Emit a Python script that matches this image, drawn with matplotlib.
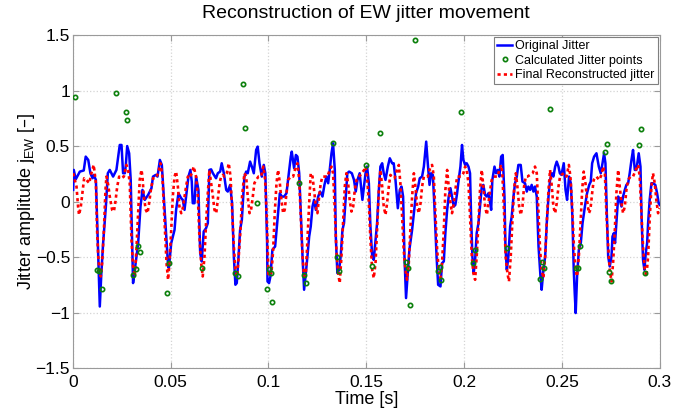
import numpy as np
import matplotlib
matplotlib.use("Agg")
import matplotlib.pyplot as plt

axis_color = "#9a9a9a"
grid_color = "#d4d4d4"

# Original jitter (blue line)
t_orig = [
    0.0002, 0.0005, 0.0015, 0.0036, 0.0056, 0.0066, 0.0079, 0.0090, 0.0101, 0.0107,
    0.0118, 0.0130, 0.0138, 0.0146, 0.0155, 0.0169, 0.0179, 0.0189, 0.0206, 0.0223,
    0.0240, 0.0249, 0.0257, 0.0266, 0.0271, 0.0278, 0.0288, 0.0296, 0.0308, 0.0317,
    0.0334, 0.0346, 0.0356, 0.0368, 0.0385, 0.0402, 0.0410, 0.0424, 0.0433, 0.0445,
    0.0455, 0.0465, 0.0479, 0.0487, 0.0491, 0.0503, 0.0520, 0.0528, 0.0540, 0.0554,
    0.0562, 0.0571, 0.0583, 0.0591, 0.0601, 0.0608, 0.0613, 0.0622, 0.0630, 0.0642,
    0.0651, 0.0659, 0.0669, 0.0681, 0.0690, 0.0698, 0.0707, 0.0716, 0.0732, 0.0741,
    0.0753, 0.0761, 0.0772, 0.0784, 0.0792, 0.0804, 0.0814, 0.0823, 0.0831, 0.0838,
    0.0847, 0.0855, 0.0864, 0.0877, 0.0886, 0.0894, 0.0906, 0.0915, 0.0925, 0.0937,
    0.0945, 0.0954, 0.0966, 0.0976, 0.0984, 0.0993, 0.0995, 0.1003, 0.1010, 0.1020,
    0.1034, 0.1046, 0.1058, 0.1068, 0.1080, 0.1092, 0.1102, 0.1114, 0.1119, 0.1131,
    0.1140, 0.1148, 0.1157, 0.1165, 0.1174, 0.1182, 0.1191, 0.1199, 0.1208, 0.1216,
    0.1225, 0.1233, 0.1242, 0.1254, 0.1264, 0.1276, 0.1286, 0.1296, 0.1305, 0.1313,
    0.1322, 0.1330, 0.1339, 0.1344, 0.1352, 0.1361, 0.1369, 0.1378, 0.1386, 0.1395,
    0.1403, 0.1412, 0.1426, 0.1437, 0.1446, 0.1455, 0.1466, 0.1480, 0.1496, 0.1504,
    0.1513, 0.1521, 0.1530, 0.1538, 0.1547, 0.1555, 0.1564, 0.1572, 0.1581, 0.1589,
    0.1598, 0.1610, 0.1620, 0.1632, 0.1640, 0.1649, 0.1661, 0.1671, 0.1680, 0.1688,
    0.1695, 0.1703, 0.1712, 0.1720, 0.1734, 0.1743, 0.1754, 0.1765, 0.1773, 0.1785,
    0.1794, 0.1806, 0.1814, 0.1823, 0.1831, 0.1840, 0.1848, 0.1859, 0.1867, 0.1879,
    0.1887, 0.1896, 0.1904, 0.1913, 0.1921, 0.1930, 0.1938, 0.1947, 0.1955, 0.1964,
    0.1972, 0.1981, 0.1989, 0.1996, 0.2005, 0.2013, 0.2022, 0.2030, 0.2035, 0.2042,
    0.2049, 0.2056, 0.2064, 0.2073, 0.2081, 0.2090, 0.2098, 0.2107, 0.2116, 0.2124,
    0.2133, 0.2138, 0.2144, 0.2155, 0.2163, 0.2172, 0.2180, 0.2189, 0.2197, 0.2206,
    0.2211, 0.2218, 0.2226, 0.2235, 0.2243, 0.2252, 0.2260, 0.2269, 0.2277, 0.2289,
    0.2298, 0.2311, 0.2320, 0.2328, 0.2337, 0.2345, 0.2354, 0.2362, 0.2371, 0.2380,
    0.2390, 0.2396, 0.2405, 0.2414, 0.2422, 0.2431, 0.2439, 0.2448, 0.2456, 0.2465,
    0.2473, 0.2482, 0.2489, 0.2497, 0.2509, 0.2518, 0.2526, 0.2536, 0.2545, 0.2553,
    0.2560, 0.2565, 0.2570, 0.2577, 0.2586, 0.2596, 0.2605, 0.2617, 0.2628, 0.2639,
    0.2647, 0.2654, 0.2664, 0.2676, 0.2688, 0.2698, 0.2707, 0.2715, 0.2722, 0.2729,
    0.2736, 0.2744, 0.2753, 0.2758, 0.2765, 0.2771, 0.2778, 0.2787, 0.2795, 0.2804,
    0.2812, 0.2821, 0.2829, 0.2838, 0.2846, 0.2855, 0.2863, 0.2872, 0.2880, 0.2892,
    0.2901, 0.2907, 0.2914, 0.2921, 0.2928, 0.2935, 0.2940, 0.2948, 0.2957, 0.2965,
    0.2977, 0.2986, 0.2994, 0.2999,
]
jit_orig = [
    0.105, 0.285, 0.200, 0.270, 0.280, 0.405, 0.375, 0.255, 0.210, 0.240,
    0.195, -0.500, -0.946, -0.645, -0.375, -0.045, 0.255, 0.285, 0.225, 0.285,
    0.510, 0.510, 0.255, 0.255, 0.330, 0.500, 0.435, 0.195, -0.735, -0.615,
    -0.375, -0.045, 0.105, 0.015, 0.060, 0.120, 0.225, 0.240, 0.225, 0.375,
    0.330, 0.045, -0.345, -0.580, -0.600, -0.375, -0.255, -0.075, 0.075, 0.030,
    0.015, -0.075, 0.105, 0.225, 0.285, 0.180, -0.015, -0.015, 0.225, 0.105,
    -0.465, -0.540, -0.270, -0.240, -0.195, 0.285, 0.290, 0.255, 0.210, 0.255,
    0.270, 0.345, 0.255, 0.105, 0.090, 0.150, -0.015, -0.495, -0.750, -0.735,
    -0.495, -0.255, -0.165, 0.225, 0.270, 0.255, 0.360, 0.315, 0.255, 0.465,
    0.495, 0.345, 0.225, 0.330, 0.255, -0.375, -0.720, -0.735, -0.675, -0.435,
    -0.405, -0.165, 0.075, 0.045, 0.045, 0.075, 0.225, 0.405, 0.450, 0.300,
    0.420, 0.405, 0.255, -0.105, -0.495, -0.795, -0.645, -0.495, -0.315, -0.225,
    -0.045, 0.015, -0.075, 0.045, 0.090, 0.045, 0.150, 0.225, 0.165, 0.285,
    0.435, 0.525, 0.285, -0.315, -0.645, -0.615, -0.495, -0.255, -0.195, 0.045,
    0.255, 0.270, 0.255, 0.195, 0.090, 0.195, 0.255, 0.015, 0.255, 0.315,
    0.165, -0.225, -0.495, -0.525, -0.345, -0.195, 0.105, 0.315, 0.345, 0.255,
    0.195, 0.315, 0.390, 0.345, 0.345, 0.195, -0.060, 0.105, 0.135, 0.045,
    -0.495, -0.870, -0.645, -0.435, -0.255, -0.105, 0.075, 0.135, 0.210, 0.225,
    0.315, 0.540, 0.345, 0.150, 0.255, 0.240, -0.045, -0.495, -0.750, -0.765,
    -0.555, -0.540, -0.285, -0.075, 0.045, 0.120, 0.045, -0.045, -0.030, 0.075,
    0.195, 0.315, 0.510, 0.375, 0.330, 0.345, 0.315, 0.255, -0.105, -0.495,
    -0.645, -0.525, -0.285, -0.195, -0.045, 0.135, 0.150, 0.060, 0.045, 0.075,
    -0.015, -0.075, 0.195, 0.315, 0.255, 0.285, 0.225, 0.405, 0.420, 0.045,
    -0.405, -0.615, -0.495, -0.225, -0.135, 0.045, 0.165, 0.225, 0.330, 0.330,
    0.180, 0.165, 0.090, 0.135, 0.105, 0.150, 0.090, 0.135, 0.045, -0.405,
    -0.675, -0.795, -0.615, -0.495, -0.195, 0.045, 0.195, 0.255, 0.225, 0.315,
    0.360, 0.315, 0.255, 0.240, 0.345, 0.105, 0.015, 0.225, 0.165, -0.135,
    -0.615, -0.825, -1.005, -0.675, -0.435, -0.375, -0.195, -0.045, 0.075, 0.150,
    0.180, 0.345, 0.405, 0.435, 0.315, 0.255, 0.345, 0.435, 0.345, -0.105,
    -0.495, -0.585, -0.495, -0.315, -0.285, -0.375, -0.195, 0.045, 0.015, -0.045,
    0.045, 0.105, 0.150, 0.165, 0.255, 0.375, 0.465, 0.285, 0.285, 0.435,
    0.315, -0.165, -0.525, -0.615, -0.465, -0.375, -0.195, 0.015, 0.165, 0.165,
    0.150, 0.075, -0.015, -0.030,
]

# Final reconstructed jitter (red dotted line)
t_rec = [
    0.0002, 0.0010, 0.0019, 0.0027, 0.0032, 0.0041, 0.0049, 0.0058, 0.0070, 0.0084,
    0.0095, 0.0107, 0.0118, 0.0124, 0.0130, 0.0138, 0.0143, 0.0150, 0.0159, 0.0167,
    0.0172, 0.0181, 0.0189, 0.0201, 0.0210, 0.0218, 0.0227, 0.0237, 0.0249, 0.0261,
    0.0274, 0.0283, 0.0291, 0.0300, 0.0308, 0.0317, 0.0325, 0.0334, 0.0342, 0.0351,
    0.0356, 0.0363, 0.0373, 0.0382, 0.0390, 0.0399, 0.0410, 0.0424, 0.0436, 0.0448,
    0.0458, 0.0467, 0.0479, 0.0487, 0.0494, 0.0503, 0.0511, 0.0520, 0.0528, 0.0537,
    0.0545, 0.0554, 0.0562, 0.0571, 0.0579, 0.0588, 0.0596, 0.0608, 0.0618, 0.0630,
    0.0639, 0.0647, 0.0656, 0.0664, 0.0673, 0.0681, 0.0690, 0.0698, 0.0707, 0.0716,
    0.0724, 0.0733, 0.0741, 0.0750, 0.0758, 0.0767, 0.0775, 0.0787, 0.0797, 0.0806,
    0.0814, 0.0823, 0.0831, 0.0840, 0.0848, 0.0857, 0.0865, 0.0877, 0.0886, 0.0894,
    0.0903, 0.0911, 0.0920, 0.0928, 0.0937, 0.0949, 0.0962, 0.0974, 0.0983, 0.0991,
    0.1000, 0.1007, 0.1015, 0.1024, 0.1032, 0.1041, 0.1049, 0.1058, 0.1066, 0.1075,
    0.1083, 0.1092, 0.1100, 0.1114, 0.1126, 0.1140, 0.1148, 0.1157, 0.1165, 0.1174,
    0.1182, 0.1191, 0.1199, 0.1208, 0.1216, 0.1225, 0.1233, 0.1242, 0.1250, 0.1259,
    0.1267, 0.1276, 0.1290, 0.1301, 0.1313, 0.1322, 0.1330, 0.1339, 0.1347, 0.1356,
    0.1364, 0.1373, 0.1381, 0.1390, 0.1398, 0.1407, 0.1415, 0.1424, 0.1433, 0.1441,
    0.1450, 0.1463, 0.1477, 0.1489, 0.1496, 0.1504, 0.1513, 0.1521, 0.1530, 0.1538,
    0.1547, 0.1555, 0.1564, 0.1572, 0.1581, 0.1589, 0.1598, 0.1606, 0.1615, 0.1623,
    0.1632, 0.1644, 0.1657, 0.1666, 0.1674, 0.1683, 0.1691, 0.1700, 0.1708, 0.1717,
    0.1725, 0.1734, 0.1743, 0.1751, 0.1760, 0.1768, 0.1777, 0.1785, 0.1794, 0.1802,
    0.1814, 0.1828, 0.1836, 0.1845, 0.1853, 0.1862, 0.1870, 0.1879, 0.1887, 0.1896,
    0.1904, 0.1913, 0.1921, 0.1930, 0.1938, 0.1947, 0.1955, 0.1964, 0.1972, 0.1984,
    0.1996, 0.2005, 0.2013, 0.2022, 0.2030, 0.2039, 0.2047, 0.2056, 0.2064, 0.2073,
    0.2081, 0.2090, 0.2098, 0.2107, 0.2116, 0.2124, 0.2133, 0.2141, 0.2150, 0.2158,
    0.2170, 0.2180, 0.2189, 0.2195, 0.2204, 0.2212, 0.2221, 0.2229, 0.2238, 0.2246,
    0.2255, 0.2264, 0.2272, 0.2281, 0.2289, 0.2298, 0.2306, 0.2315, 0.2323, 0.2337,
    0.2350, 0.2362, 0.2371, 0.2380, 0.2388, 0.2396, 0.2405, 0.2414, 0.2422, 0.2431,
    0.2439, 0.2448, 0.2456, 0.2465, 0.2473, 0.2482, 0.2490, 0.2497, 0.2509, 0.2523,
    0.2535, 0.2543, 0.2552, 0.2560, 0.2569, 0.2577, 0.2586, 0.2595, 0.2603, 0.2611,
    0.2620, 0.2628, 0.2637, 0.2645, 0.2654, 0.2662, 0.2676, 0.2690, 0.2702, 0.2710,
    0.2719, 0.2727, 0.2736, 0.2744, 0.2753, 0.2761, 0.2770, 0.2778, 0.2787, 0.2795,
    0.2804, 0.2812, 0.2821, 0.2829, 0.2838, 0.2850, 0.2863, 0.2877, 0.2889, 0.2897,
    0.2906, 0.2914, 0.2923, 0.2931, 0.2940, 0.2948, 0.2957, 0.2965, 0.2974, 0.2982,
    0.2991, 0.2999,
]
jit_rec = [
    0.255, 0.195, 0.135, -0.045, -0.120, -0.045, 0.075, 0.210, 0.195, 0.165,
    0.255, 0.330, 0.165, -0.255, -0.495, -0.645, -0.675, -0.555, -0.255, 0.105,
    0.225, 0.150, 0.045, -0.075, -0.090, 0.000, 0.135, 0.225, 0.210, 0.225,
    0.330, 0.285, 0.165, -0.345, -0.585, -0.675, -0.435, -0.105, 0.195, 0.285,
    0.225, 0.045, -0.075, -0.105, -0.015, 0.105, 0.210, 0.210, 0.255, 0.345,
    0.225, -0.105, -0.555, -0.705, -0.555, -0.255, 0.045, 0.225, 0.270, 0.135,
    -0.045, -0.105, -0.060, 0.045, 0.135, 0.225, 0.210, 0.255, 0.315, 0.225,
    0.045, -0.315, -0.555, -0.675, -0.495, -0.195, 0.075, 0.285, 0.165, 0.045,
    -0.075, -0.105, 0.015, 0.165, 0.225, 0.240, 0.225, 0.255, 0.345, 0.225,
    -0.075, -0.405, -0.615, -0.675, -0.495, -0.255, 0.045, 0.255, 0.225, 0.045,
    -0.105, -0.075, 0.045, 0.165, 0.195, 0.225, 0.225, 0.315, 0.195, -0.135,
    -0.675, -0.615, -0.645, -0.435, -0.105, 0.165, 0.285, 0.165, 0.015, -0.105,
    -0.075, 0.075, 0.195, 0.225, 0.225, 0.315, 0.345, 0.195, -0.135, -0.495,
    -0.675, -0.645, -0.345, -0.015, 0.255, 0.225, 0.105, -0.045, -0.105, 0.045,
    0.165, 0.225, 0.225, 0.225, 0.285, 0.315, 0.255, -0.075, -0.435, -0.645,
    -0.735, -0.495, -0.195, 0.135, 0.255, 0.165, 0.015, -0.090, -0.045, 0.105,
    0.195, 0.225, 0.255, 0.285, 0.315, 0.225, -0.015, -0.345, -0.615, -0.690,
    -0.555, -0.255, 0.105, 0.285, 0.135, -0.045, -0.120, -0.015, 0.135, 0.240,
    0.225, 0.210, 0.285, 0.330, 0.165, -0.135, -0.435, -0.615, -0.705, -0.555,
    -0.255, 0.045, 0.255, 0.135, -0.045, -0.105, -0.015, 0.135, 0.225, 0.225,
    0.225, 0.315, 0.330, 0.225, -0.105, -0.435, -0.615, -0.690, -0.555, -0.255,
    0.105, 0.285, 0.135, -0.015, -0.105, -0.015, 0.105, 0.225, 0.225, 0.225,
    0.255, 0.315, 0.285, 0.165, -0.135, -0.495, -0.645, -0.705, -0.495, -0.195,
    0.105, 0.285, 0.135, -0.045, -0.120, -0.015, 0.105, 0.195, 0.225, 0.225,
    0.225, 0.285, 0.330, 0.255, -0.105, -0.495, -0.645, -0.720, -0.495, -0.195,
    0.105, 0.255, 0.135, -0.045, -0.120, -0.045, 0.135, 0.225, 0.225, 0.240,
    0.255, 0.315, 0.255, -0.105, -0.435, -0.615, -0.690, -0.495, -0.195, 0.105,
    0.285, 0.135, -0.045, -0.105, -0.015, 0.135, 0.225, 0.240, 0.255, 0.225,
    0.330, 0.225, -0.045, -0.375, -0.615, -0.675, -0.495, -0.195, 0.105, 0.270,
    0.165, 0.015, -0.105, -0.075, 0.075, 0.195, 0.225, 0.195, 0.240, 0.315,
    0.255, -0.105, -0.405, -0.615, -0.720, -0.555, -0.255, 0.075, 0.285, 0.135,
    -0.015, -0.105, -0.045, 0.105, 0.195, 0.225, 0.225, 0.285, 0.330, 0.225,
    -0.105, -0.405, -0.615, -0.675, -0.495, -0.165, 0.135, 0.255, 0.165, 0.015,
    -0.105, -0.060,
]

# Calculated jitter points (green circles)
t_pts = [
    0.0010, 0.0126, 0.0134, 0.0150, 0.0220, 0.0271, 0.0279, 0.0308, 0.0321, 0.0331,
    0.0341, 0.0479, 0.0492, 0.0661, 0.0827, 0.0842, 0.0870, 0.0879, 0.0940, 0.0993,
    0.1004, 0.1012, 0.1018, 0.1158, 0.1180, 0.1191, 0.1331, 0.1348, 0.1361, 0.1500,
    0.1531, 0.1572, 0.1705, 0.1714, 0.1722, 0.1751, 0.1867, 0.1876, 0.1884, 0.1986,
    0.2047, 0.2056, 0.2217, 0.2388, 0.2398, 0.2410, 0.2438, 0.2570, 0.2584, 0.2590,
    0.2721, 0.2731, 0.2739, 0.2750, 0.2891, 0.2902, 0.2922,
]
jit_pts = [
    0.946, -0.615, -0.625, -0.786, 0.979, 0.808, 0.736, -0.662, -0.609, -0.398,
    -0.453, -0.825, -0.555, -0.603, -0.645, -0.668, 1.058, 0.664, -0.011, -0.790,
    -0.610, -0.640, -0.907, 0.170, -0.660, -0.730, 0.532, -0.497, -0.630, 0.332,
    -0.580, 0.616, -0.549, -0.600, -0.932, 1.457, -0.630, -0.588, -0.705, 0.805,
    -0.555, -0.435, -0.418, -0.696, -0.548, -0.596, 0.835, -0.595, -0.600, -0.405,
    0.445, 0.520, -0.635, -0.716, 0.509, 0.652, -0.640,
]

x_ticks = [0, 0.05, 0.1, 0.15, 0.2, 0.25, 0.3]
x_labels = ["0", "0.05", "0.1", "0.15", "0.2", "0.25", "0.3"]
y_ticks = [-1.5, -1, -0.5, 0, 0.5, 1, 1.5]
y_labels = ["\u22121.5", "\u22121", "\u22120.5", "0", "0.5", "1", "1.5"]


def main():
    plt.rcParams["font.family"] = ["Liberation Sans", "DejaVu Sans"]
    plt.rcParams["mathtext.default"] = "regular"

    fig = plt.figure(figsize=(6.74, 4.13), dpi=100, facecolor="white")
    ax = fig.add_axes([0.108, 0.109, 0.871, 0.806])

    ax.plot(t_orig, jit_orig, color="#0000ff", lw=1.8, label="Original Jitter",
            zorder=3)
    ax.plot(t_pts, jit_pts, ls="none", marker="o", markersize=3.1,
            markerfacecolor="none", markeredgecolor="#0a7f0a", markeredgewidth=1.2,
            label="Calculated Jitter points", zorder=5)
    ax.plot(t_rec, jit_rec, color="#ff0000", lw=1.9, ls=(0, (1.2, 1.2)),
            label="Final Reconstructed jitter", zorder=4)

    ax.set_xlim(0, 0.3)
    ax.set_ylim(-1.5, 1.5)
    ax.set_xticks(x_ticks)
    ax.set_xticklabels(x_labels)
    ax.set_yticks(y_ticks)
    ax.set_yticklabels(y_labels)

    for side in ["bottom", "top", "right", "left"]:
        ax.spines[side].set_color(axis_color)
        ax.spines[side].set_linewidth(0.8)
    ax.tick_params(axis="both", direction="in", length=4, color=axis_color,
                   labelsize=12.5, top=True, right=True, pad=2)
    ax.tick_params(axis="x", pad=5)
    ax.grid(True, ls=":", color=grid_color, lw=0.9)

    ax.set_title("Reconstruction of EW jitter movement", fontsize=14, pad=12)
    ax.set_xlabel("Time [s]", fontsize=13, labelpad=1)
    ax.set_ylabel("Jitter amplitude j$_{EW}$ [\u2013]", fontsize=13, labelpad=-1)

    leg = ax.legend(loc="upper right", fontsize=9, handlelength=1.2,
                    handletextpad=0.25, borderpad=0.25, labelspacing=0.2,
                    borderaxespad=0.15, fancybox=False, framealpha=1)
    leg.get_frame().set_edgecolor("#7f7f7f")
    leg.get_frame().set_linewidth(0.8)

    fig.savefig("out.png", dpi=100)


if __name__ == "__main__":
    main()
